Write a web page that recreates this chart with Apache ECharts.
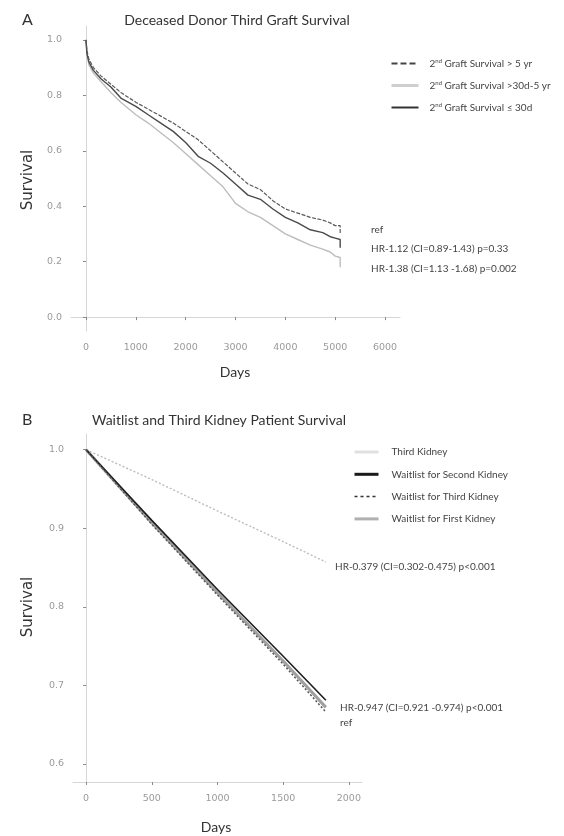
<!DOCTYPE html>
<html><head><meta charset="utf-8">
<script src="https://cdn.jsdelivr.net/npm/echarts@6/dist/echarts.min.js"></script>
<style>html,body{margin:0;padding:0;background:#fff}#c{width:564px;height:836px}</style>
</head><body><div id="c"></div>
<script>
// ---- Panel A: Deceased Donor Third Graft Survival (Kaplan-Meier)
const aDays   = [0,20,60,150,300,500,700,1000,1250,1500,1750,2000,2250,2500,2750,3000,3250,3500,3750,4000,4250,4500,4750,4900,5000,5100,5100];
const aGt5yr  = [1.0,0.96,0.93,0.90,0.87,0.84,0.81,0.775,0.75,0.725,0.70,0.67,0.64,0.60,0.56,0.52,0.48,0.46,0.42,0.39,0.375,0.36,0.35,0.34,0.33,0.33,0.30];
const a30d5yr = [1.0,0.95,0.91,0.88,0.85,0.81,0.775,0.73,0.70,0.665,0.63,0.59,0.55,0.51,0.47,0.41,0.38,0.36,0.33,0.30,0.28,0.26,0.245,0.235,0.22,0.215,0.18];
const aLe30d  = [1.0,0.95,0.92,0.89,0.86,0.83,0.79,0.76,0.73,0.70,0.67,0.63,0.58,0.555,0.52,0.48,0.44,0.425,0.39,0.36,0.34,0.315,0.305,0.29,0.285,0.28,0.25];
const aXTicks = [0,1000,2000,3000,4000,5000,6000];
const aYTicks = [0,0.2,0.4,0.6,0.8,1.0];
const aNames  = ['2nd Graft Survival > 5 yr','2nd Graft Survival >30d-5 yr','2nd Graft Survival \u2264 30d'];
const aHR     = ['ref','HR-1.12 (CI=0.89-1.43) p=0.33','HR-1.38 (CI=1.13 -1.68) p=0.002'];

// ---- Panel B: Waitlist and Third Kidney Patient Survival
const bDays     = [0,500,1000,1500,1825];
const bThirdKid = [1.0,0.962,0.922,0.883,0.857];
const bWlSecond = [1.0,0.910,0.822,0.737,0.681];
const bWlThird  = [1.0,0.905,0.815,0.727,0.666];
const bWlFirst  = [1.0,0.907,0.818,0.731,0.672];
const bXTicks = [0,500,1000,1500,2000];
const bYTicks = [0.6,0.7,0.8,0.9,1.0];
const bNames  = ['Third Kidney','Waitlist for Second Kidney','Waitlist for Third Kidney','Waitlist for First Kidney'];
const bHR     = ['HR-0.379 (CI=0.302-0.475) p<0.001','HR-0.947 (CI=0.921 -0.974) p<0.001','ref'];

const pairs = (xs, ys) => xs.map((x, i) => [x, ys[i]]);
const FONT = 'Lato, "Open Sans", sans-serif';

function xAxis(gi, min, max, ticks) {
  return {
    type: 'value', gridIndex: gi, min: min, max: max,
    axisLine: {show: true, lineStyle: {color: '#d6d6d6', width: 1}},
    axisTick: {show: true, customValues: ticks, length: 3, lineStyle: {color: '#888'}},
    axisLabel: {customValues: ticks, color: '#9a9a9a', fontSize: 9.5, fontFamily: 'DejaVu Sans', margin: 12,
      formatter: v => String(v)},
    splitLine: {show: false}
  };
}
function yAxis(gi, min, max, ticks) {
  return {
    type: 'value', gridIndex: gi, min: min, max: max,
    axisLine: {show: true, lineStyle: {color: '#d6d6d6', width: 1}},
    axisTick: {show: true, customValues: ticks, length: 3, lineStyle: {color: '#888'}},
    axisLabel: {customValues: ticks, color: '#9a9a9a', fontSize: 9.5, fontFamily: 'DejaVu Sans', margin: 9,
      formatter: v => Number(v).toFixed(1)},
    splitLine: {show: false}
  };
}
function txt(x, y, text, size, opts) {
  return Object.assign({
    type: 'text', x: x, y: y, silent: true,
    style: Object.assign({text: text, font: size + 'px ' + FONT, fill: '#333', align: 'left', verticalAlign: 'middle'}, (opts && opts.style) || {})
  }, (opts && opts.el) || {});
}
const supFmt = name => name.replace(/^2nd/, '2{sup|nd}');
const richSup = {sup: {fontSize: 6, verticalAlign: 'top', padding: [0, 0, 5, 0], fontFamily: FONT, color: '#444'}};
const noSym = {opacity: 0};

const chart = echarts.init(document.getElementById('c'), null, {renderer: 'canvas'});
chart.setOption({
  animation: false,
  backgroundColor: '#fff',
  grid: [
    {left: 71, top: 26, width: 329, height: 305},
    {left: 73, top: 434, width: 289, height: 348}
  ],
  xAxis: [xAxis(0, -300, 6300, aXTicks), xAxis(1, -100, 2100, bXTicks)],
  yAxis: [yAxis(0, -0.05, 1.05, aYTicks), yAxis(1, 0.577, 1.02, bYTicks)],
  legend: [
    {
      orient: 'vertical', left: 385, top: 53, itemWidth: 27, itemHeight: 12, itemGap: 11.5,
      data: [
        {name: aNames[0], itemStyle: noSym, lineStyle: {color: '#444', width: 2, type: [6, 3]}},
        {name: aNames[1], itemStyle: noSym, lineStyle: {color: '#cfcfcf', width: 3, type: 'solid'}},
        {name: aNames[2], itemStyle: noSym, lineStyle: {color: '#333', width: 2, type: 'solid'}}
      ],
      formatter: supFmt,
      textStyle: {fontFamily: FONT, fontSize: 10, color: '#444', padding: [0, 0, 0, 6], rich: richSup},
      selectedMode: false
    },
    {
      orient: 'vertical', left: 348, top: 442, itemWidth: 24, itemHeight: 12, itemGap: 12.3,
      data: [
        {name: bNames[0], itemStyle: noSym, lineStyle: {color: '#e0e0e0', width: 3, type: 'solid'}},
        {name: bNames[1], itemStyle: noSym, lineStyle: {color: '#1a1a1a', width: 3, type: 'solid'}},
        {name: bNames[2], itemStyle: noSym, lineStyle: {color: '#333', width: 1.5, type: [3, 3]}},
        {name: bNames[3], itemStyle: noSym, lineStyle: {color: '#b0b0b0', width: 3, type: 'solid'}}
      ],
      textStyle: {fontFamily: FONT, fontSize: 10, color: '#444', padding: [0, 0, 0, 8]},
      selectedMode: false
    }
  ],
  series: [
    {name: aNames[1], type: 'line', xAxisIndex: 0, yAxisIndex: 0, data: pairs(aDays, a30d5yr), symbol: 'none',
      lineStyle: {color: '#bdbdbd', width: 1.4}, itemStyle: {color: '#bdbdbd'}},
    {name: aNames[2], type: 'line', xAxisIndex: 0, yAxisIndex: 0, data: pairs(aDays, aLe30d), symbol: 'none',
      lineStyle: {color: '#4a4a4a', width: 1.4}, itemStyle: {color: '#4a4a4a'}},
    {name: aNames[0], type: 'line', xAxisIndex: 0, yAxisIndex: 0, data: pairs(aDays, aGt5yr), symbol: 'none',
      lineStyle: {color: '#5a5a5a', width: 1.2, type: [4, 1.5]}, itemStyle: {color: '#5a5a5a'}},

    {name: bNames[0], type: 'line', xAxisIndex: 1, yAxisIndex: 1, data: pairs(bDays, bThirdKid), symbol: 'none',
      lineStyle: {color: '#bcbcbc', width: 1.4, type: [2, 2]}, itemStyle: {color: '#bcbcbc'}},
    {name: bNames[3], type: 'line', xAxisIndex: 1, yAxisIndex: 1, data: pairs(bDays, bWlFirst), symbol: 'none',
      lineStyle: {color: '#a0a0a0', width: 3}, itemStyle: {color: '#a0a0a0'}},
    {name: bNames[1], type: 'line', xAxisIndex: 1, yAxisIndex: 1, data: pairs(bDays, bWlSecond), symbol: 'none',
      lineStyle: {color: '#1e1e1e', width: 1.6}, itemStyle: {color: '#1e1e1e'}},
    {name: bNames[2], type: 'line', xAxisIndex: 1, yAxisIndex: 1, data: pairs(bDays, bWlThird), symbol: 'none',
      lineStyle: {color: '#555', width: 1.5, type: [2, 2]}, itemStyle: {color: '#555'}}
  ],
  graphic: [
    txt(22, 20, 'A', 16),
    txt(237, 20, 'Deceased Donor Third Graft Survival', 14, {style: {align: 'center'}}),
    txt(28, 180, 'Survival', 15, {style: {align: 'center', font: '15px "DejaVu Sans"'}, el: {rotation: Math.PI / 2}}),
    txt(235, 372, 'Days', 14, {style: {align: 'center'}}),
    txt(371, 230, aHR[0], 10, {style: {fill: '#444'}}),
    txt(371, 249, aHR[1], 10, {style: {fill: '#444'}}),
    txt(371, 269, aHR[2], 10, {style: {fill: '#444'}}),

    txt(22, 420, 'B', 16),
    txt(219, 420, 'Waitlist and Third Kidney Patient Survival', 14, {style: {align: 'center'}}),
    txt(28, 607, 'Survival', 15, {style: {align: 'center', font: '15px "DejaVu Sans"'}, el: {rotation: Math.PI / 2}}),
    txt(216, 827, 'Days', 14, {style: {align: 'center'}}),
    txt(335, 567, bHR[0], 10, {style: {fill: '#444'}}),
    txt(340, 708, bHR[1], 10, {style: {fill: '#444'}}),
    txt(340, 723, bHR[2], 10, {style: {fill: '#444'}})
  ]
});
</script></body></html>
